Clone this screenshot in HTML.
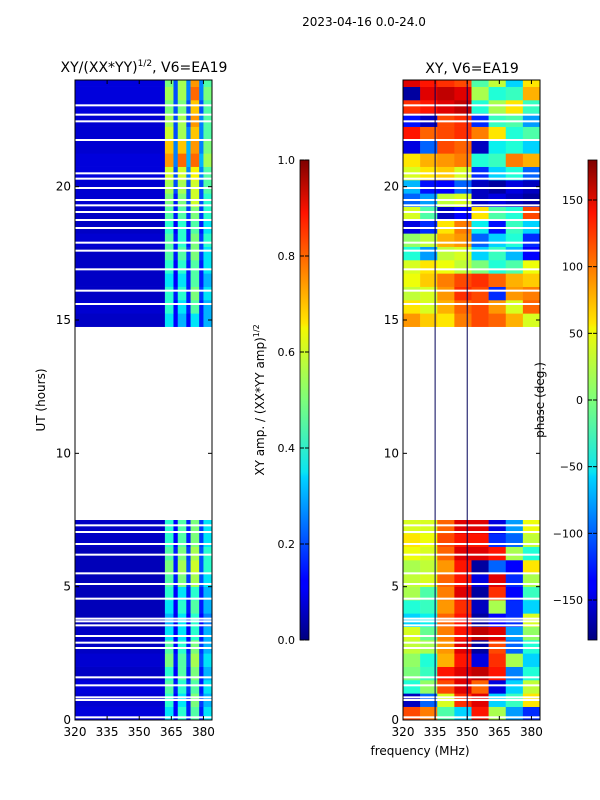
<!DOCTYPE html>
<html><head><meta charset="utf-8"><style>
body{margin:0;background:#fff;}
svg{display:block;font-family:"DejaVu Sans","Liberation Sans",sans-serif;}
</style></head><body>
<svg id="fig" width="600" height="800" viewBox="0 0 600 800">
<defs>
<linearGradient id="jet" x1="0" y1="1" x2="0" y2="0">
<stop offset="0" stop-color="#00007f"/><stop offset="0.11" stop-color="#0000ff"/>
<stop offset="0.125" stop-color="#0000ff"/><stop offset="0.34" stop-color="#00d4ff"/>
<stop offset="0.35" stop-color="#0ae4f2"/><stop offset="0.5" stop-color="#7dff7a"/>
<stop offset="0.65" stop-color="#f4f802"/><stop offset="0.66" stop-color="#ffe600"/>
<stop offset="0.89" stop-color="#ff1300"/><stop offset="1" stop-color="#7f0000"/>
</linearGradient>
</defs>
<text x="364" y="26" font-size="12" text-anchor="middle">2023-04-16 0.0-24.0</text>
<text x="144" y="72" font-size="14" text-anchor="middle">XY/(XX*YY)<tspan font-size="9" dy="-6">1/2</tspan><tspan dy="6">, V6=EA19</tspan></text>
<text x="472" y="73" font-size="14" text-anchor="middle">XY, V6=EA19</text>
<g id="ampPanel"></g>
<g id="phPanel"></g>
<g id="axes"></g>
<text transform="translate(45,400) rotate(-90)" font-size="12" text-anchor="middle">UT (hours)</text>
<text transform="translate(264,400) rotate(-90)" font-size="12" text-anchor="middle">XY amp. / (XX*YY amp)<tspan font-size="8" dy="-5">1/2</tspan></text>
<text transform="translate(544,400) rotate(-90)" font-size="12" text-anchor="middle">phase (deg.)</text>
<text x="420" y="755" font-size="12" text-anchor="middle">frequency (MHz)</text>
<rect x="300" y="160" width="9" height="480" fill="url(#jet)" stroke="#000" stroke-width="0.8"/>
<rect x="588" y="160" width="9" height="480" fill="url(#jet)" stroke="#000" stroke-width="0.8"/>
<g id="cb"></g>
</svg>
<script>
// ---- data ----
const timeStarts=[0,0.5,1,1.5,2,2.5,3,3.5,4,4.5,5,5.5,6,6.5,7,14.75,15.25,15.75,16.25,16.75,17.25,17.75,18.25,18.75,19.25,19.75,20.25,20.75,21.25,21.75,22.25,22.75,23.25,23.75];
const ampFreqEdges=[320,362,366,368,372,374,378,380,384];
const ampValues=[
[.08,.35,.12,.4,.15,.45,.15,.35],[.07,.4,.12,.35,.15,.5,.18,.3],[.08,.45,.15,.4,.18,.45,.15,.35],
[.06,.4,.12,.45,.15,.5,.15,.3],[.07,.5,.15,.45,.18,.55,.2,.35],[.06,.45,.12,.4,.15,.5,.18,.3],
[.06,.35,.12,.35,.12,.4,.15,.3],[.05,.3,.1,.35,.12,.4,.12,.25],[.05,.35,.12,.4,.15,.45,.15,.3],
[.05,.4,.12,.35,.15,.4,.15,.3],[.05,.45,.15,.5,.18,.55,.2,.35],[.05,.5,.15,.55,.2,.6,.2,.4],
[.05,.45,.15,.5,.18,.55,.2,.4],[.06,.4,.12,.45,.15,.5,.18,.35],[.06,.4,.12,.45,.15,.5,.18,.35],
[.06,.35,.12,.3,.12,.35,.15,.3],[.07,.4,.12,.35,.15,.45,.15,.3],[.06,.4,.15,.4,.15,.5,.18,.35],
[.06,.35,.12,.35,.15,.45,.15,.3],[.06,.4,.12,.4,.15,.45,.15,.35],[.06,.45,.15,.45,.18,.5,.18,.35],
[.07,.45,.15,.4,.15,.5,.18,.4],[.06,.4,.12,.4,.15,.45,.15,.35],[.06,.45,.15,.45,.18,.5,.18,.4],
[.07,.5,.15,.5,.2,.6,.2,.4],[.07,.55,.2,.55,.2,.6,.2,.45],[.08,.6,.2,.6,.25,.65,.25,.45],
[.08,.75,.25,.8,.3,.8,.3,.55],[.07,.7,.25,.7,.3,.75,.25,.5],[.07,.6,.2,.55,.25,.7,.25,.45],
[.07,.55,.2,.55,.2,.75,.25,.45],[.08,.5,.2,.5,.2,.7,.2,.45],[.08,.55,.2,.55,.25,.8,.25,.5],
[.08,.5,.2,.55,.25,.75,.25,.45]];
const phFreqEdges=[320,328,336,344,352,360,368,376,384];
const phValues=[
[120,100,-20,-60,140,20,-80,-120],[-160,-100,40,130,150,-60,-30,60],[-40,10,120,150,110,-150,-60,30],
[0,-30,140,150,160,140,-90,-40],[10,-40,80,140,-150,130,20,-60],[30,20,90,150,-170,120,-100,-40],
[40,-10,100,140,160,150,-80,10],[-60,-50,110,140,-170,-140,-120,40],[-40,-30,90,130,-160,20,-120,-60],
[20,-20,100,150,-170,130,-140,-30],[30,40,110,140,-150,150,-120,20],[20,30,90,140,-170,-100,-140,60],
[50,40,110,150,150,140,20,-40],[60,50,120,140,140,-120,-100,30],[40,40,110,150,150,-150,-80,50],
[90,70,60,100,120,110,80,40],[60,40,80,110,120,90,40,110],[30,40,90,130,120,-120,90,100],
[50,70,100,120,130,110,80,70],[40,60,50,30,0,-40,-20,50],[-40,-80,30,40,-60,-30,-70,-140],
[10,30,80,90,-100,-60,-40,-120],[-150,-120,60,100,-50,-130,-30,-60],[40,-20,-160,-140,60,-20,-40,120],
[-100,-80,30,40,-160,-150,-160,-170],[-70,-130,-140,-100,-160,-170,-150,-160],[40,60,70,40,-120,-60,-40,-100],
[60,80,90,100,-40,-30,100,80],[-150,-100,120,110,-160,-50,-40,-60],[140,110,120,130,100,60,-40,-20],
[-130,-160,120,130,-120,-30,-20,-80],[130,140,150,160,-40,20,60,-30],[-170,150,160,150,20,-40,-30,80],
[150,140,130,120,-20,30,-60,60]];
const flagTimes=[0.1,0.75,0.85,1.3,1.6,2.7,2.9,3.15,3.55,3.7,3.8,4.55,5.1,5.5,6.2,6.6,7.05,7.3,15.6,16.1,16.9,17.6,17.9,18.45,18.75,19.05,19.3,19.5,19.95,20.3,20.5,21.75,22.45,22.7,23.05];
const xTicks=[320,335,350,365,380];
const yTicks=[0,5,10,15,20];
const ampCbTicks=[0.0,0.2,0.4,0.6,0.8,1.0];
const phCbTicks=[-150,-100,-50,0,50,100,150];
// ---- scales ----
const NS='http://www.w3.org/2000/svg';
const panels=[{x0:75,id:'ampPanel'},{x0:403,id:'phPanel'}];
const PW=137,PY0=80,PH=640;
function xs(f,x0){return x0+(f-320)/64*PW;}
function ys(t){return PY0+PH-(Math.min(t,24))/24*PH;}
function interp(v,pts){for(let i=1;i<pts.length;i++){if(v<=pts[i][0]){const a=pts[i-1],b=pts[i];return a[1]+(b[1]-a[1])*(v-a[0])/(b[0]-a[0]);}}return pts[pts.length-1][1];}
function jet(v){v=Math.max(0,Math.min(1,v));
 const r=interp(v,[[0,0],[0.35,0],[0.66,1],[0.89,1],[1,0.5]]);
 const g=interp(v,[[0,0],[0.125,0],[0.375,1],[0.64,1],[0.91,0],[1,0]]);
 const b=interp(v,[[0,0.5],[0.11,1],[0.34,1],[0.65,0],[1,0]]);
 return `rgb(${Math.round(r*255)},${Math.round(g*255)},${Math.round(b*255)})`;}
function mk(tag,attrs,parent){const e=document.createElementNS(NS,tag);for(const k in attrs)e.setAttribute(k,attrs[k]);parent.appendChild(e);return e;}
function drawGrid(g,x0,edges,vals,norm){
 timeStarts.forEach((t,i)=>{
  for(let c=0;c<edges.length-1;c++){
   const xa=xs(edges[c],x0),xb=xs(edges[c+1],x0),ya=ys(t+0.5),yb=ys(t);
   const r=mk('rect',{x:xa,y:ya,width:xb-xa+0.3,height:yb-ya+0.3,fill:jet(norm(vals[i][c]))},g);
   
   
  }});
 flagTimes.forEach(t=>{
  const r=mk('rect',{x:x0,y:ys(t)-1,width:PW,height:2,fill:'#fff'},g);
  
  
 });
}
drawGrid(document.getElementById('ampPanel'),75,ampFreqEdges,ampValues,v=>v);
drawGrid(document.getElementById('phPanel'),403,phFreqEdges,phValues,v=>(v+180)/360);
const ph=document.getElementById('phPanel');
[335,350].forEach(f=>{const l=mk('line',{x1:xs(f,403),x2:xs(f,403),y1:PY0,y2:PY0+PH,stroke:'#00005a','stroke-width':1},ph);
 
 });
const ax=document.getElementById('axes');
panels.forEach((p,pi)=>{
 const fr=mk('rect',{x:p.x0,y:PY0,width:PW,height:PH,fill:'none',stroke:'#000','stroke-width':1},ax);
 
 
 xTicks.forEach(f=>{const x=xs(f,p.x0);
  mk('line',{x1:x,x2:x,y1:PY0+PH,y2:PY0+PH-4,stroke:'#000'},ax);
  mk('line',{x1:x,x2:x,y1:PY0,y2:PY0+4,stroke:'#000'},ax);
  const t=mk('text',{x:x,y:PY0+PH+16,'font-size':12,'text-anchor':'middle'},ax);t.textContent=f;
  
  });
 yTicks.forEach(v=>{const y=ys(v);
  mk('line',{x1:p.x0,x2:p.x0+4,y1:y,y2:y,stroke:'#000'},ax);
  mk('line',{x1:p.x0+PW,x2:p.x0+PW-4,y1:y,y2:y,stroke:'#000'},ax);
  const t=mk('text',{x:p.x0-4,y:y+4,'font-size':12,'text-anchor':'end'},ax);t.textContent=v;
  
  });
});
const cb=document.getElementById('cb');
ampCbTicks.forEach(v=>{const y=640-v*480;
 mk('line',{x1:300,x2:304,y1:y,y2:y,stroke:'#000'},cb);mk('line',{x1:305,x2:309,y1:y,y2:y,stroke:'#000'},cb);
 const t=mk('text',{x:295,y:y+4,'font-size':11,'text-anchor':'end'},cb);t.textContent=v.toFixed(1);
 
 });
phCbTicks.forEach(v=>{const y=400-v/360*480;
 mk('line',{x1:588,x2:592,y1:y,y2:y,stroke:'#000'},cb);mk('line',{x1:593,x2:597,y1:y,y2:y,stroke:'#000'},cb);
 const t=mk('text',{x:583,y:y+4,'font-size':11,'text-anchor':'end'},cb);t.textContent=v<0?'\u2212'+(-v):v;
 
 });
</script>
</body></html>
